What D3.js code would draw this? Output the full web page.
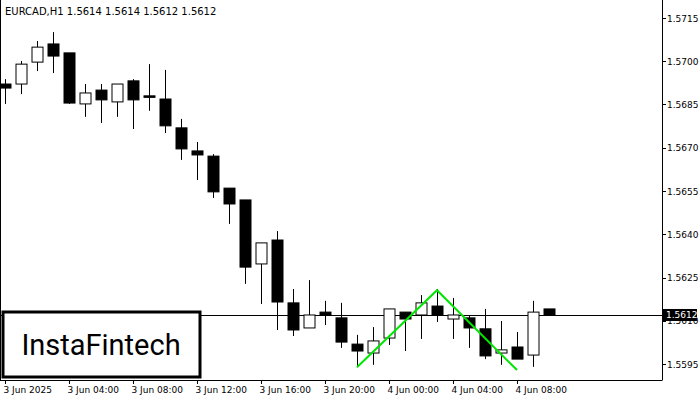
<!DOCTYPE html>
<html><head><meta charset="utf-8">
<script src="https://cdn.jsdelivr.net/npm/d3@7"></script>
<style>body{margin:0;background:#fff}text{font-family:"DejaVu Sans",sans-serif}</style>
</head><body><div id="chart"></div>
<script>
var svgWidth = 700, svgHeight = 400;

// OHLC per hour, 3 Jun 00:00 .. 4 Jun 10:00
var opens  = [1.56921,1.56921,1.56997,1.57060,1.57029,1.56852,1.56900,1.56859,1.56932,1.56880,1.56869,1.56769,1.56689,1.56671,1.56560,1.56519,1.56297,1.56380,1.56162,1.56075,1.56130,1.56110,1.56019,1.55988,1.56040,1.56130,1.56120,1.56151,1.56106,1.56110,1.56072,1.55988,1.56009,1.55981,1.56141];
var highs  = [1.56938,1.57001,1.57070,1.57101,1.57029,1.56921,1.56921,1.56921,1.56938,1.56990,1.56970,1.56800,1.56720,1.56678,1.56560,1.56519,1.56370,1.56411,1.56210,1.56241,1.56169,1.56162,1.56051,1.56078,1.56141,1.56130,1.56189,1.56210,1.56179,1.56120,1.56141,1.56099,1.56061,1.56169,1.56141];
var lows   = [1.56852,1.56886,1.56966,1.56959,1.56852,1.56807,1.56786,1.56807,1.56765,1.56828,1.56751,1.56658,1.56588,1.56526,1.56436,1.56228,1.56158,1.56068,1.56047,1.56075,1.56085,1.56006,1.55940,1.55947,1.56016,1.55995,1.56037,1.56096,1.56037,1.56006,1.55967,1.55947,1.55967,1.55940,1.56120];
var closes = [1.56907,1.56990,1.57049,1.57018,1.56855,1.56890,1.56866,1.56921,1.56866,1.56880,1.56776,1.56696,1.56675,1.56547,1.56505,1.56286,1.56370,1.56165,1.56068,1.56120,1.56120,1.56026,1.55995,1.56030,1.56141,1.56106,1.56162,1.56120,1.56120,1.56075,1.55978,1.55999,1.55967,1.56130,1.56120];

var yTicks = [1.5595,1.5610,1.5625,1.5640,1.5655,1.5670,1.5685,1.5700,1.5715];
var timeLabels = ["3 Jun 2025","3 Jun 04:00","3 Jun 08:00","3 Jun 12:00","3 Jun 16:00","3 Jun 20:00","4 Jun 00:00","4 Jun 04:00","4 Jun 08:00"];
var lastPrice = 1.5612;
// double top pattern: index, price
var patIdx = [22, 27, 32];
var patPrice = [1.55939, 1.56206, 1.55929];

var svg = d3.select("#chart").append("svg")
    .attr("width", svgWidth).attr("height", svgHeight);

var x = d3.scaleLinear().domain([0, 34]).range([5, 549]);
var y = d3.scaleLinear().domain([1.5595, 1.5715]).range([364, 18]);

// frame
svg.append("line").attr("x1", 662.5).attr("x2", 662.5).attr("y1", 0).attr("y2", 380).attr("stroke", "#000");
svg.append("line").attr("x1", 0).attr("x2", 662.5).attr("y1", 380.5).attr("y2", 380.5).attr("stroke", "#000");
svg.append("line").attr("x1", 0.5).attr("x2", 0.5).attr("y1", 0).attr("y2", 380).attr("stroke", "#000");

// y axis
var yAxis = svg.append("g");
yTicks.forEach(function (t) {
    yAxis.append("line").attr("x1", 662).attr("x2", 666).attr("y1", Math.round(y(t)) + 0.5).attr("y2", Math.round(y(t)) + 0.5).attr("stroke", "#000");
    yAxis.append("text").attr("x", 667).attr("y", y(t) + 3.5).attr("font-size", 9).text(t.toFixed(4));
});

// x axis
timeLabels.forEach(function (l, i) {
    var xx = Math.round(x(i * 4)) + 0.5;
    svg.append("line").attr("x1", xx).attr("x2", xx).attr("y1", 380).attr("y2", 384).attr("stroke", "#000");
    svg.append("text").attr("x", xx - 2).attr("y", 393).attr("font-size", 9).text(l);
});

// last price line
svg.append("line").attr("x1", 0).attr("x2", 662).attr("y1", Math.round(y(lastPrice)) + 0.5).attr("y2", Math.round(y(lastPrice)) + 0.5).attr("stroke", "#000");

// candles
var data = opens.map(function (o, i) { return {i: i, o: o, h: highs[i], l: lows[i], c: closes[i]}; });
var candles = svg.selectAll(".candle").data(data).enter().append("g");
candles.append("line")
    .attr("x1", d => Math.round(x(d.i)) + 0.5).attr("x2", d => Math.round(x(d.i)) + 0.5)
    .attr("y1", d => y(d.h)).attr("y2", d => y(d.l))
    .attr("stroke", "#000").attr("stroke-width", 1);
candles.append("rect")
    .attr("x", d => Math.round(x(d.i)) - 5)
    .attr("y", d => y(Math.max(d.o, d.c)))
    .attr("width", 11)
    .attr("height", d => Math.max(1.5, Math.abs(y(d.o) - y(d.c))))
    .attr("fill", d => d.c >= d.o && d.c !== d.o ? "#fff" : "#000")
    .attr("stroke", "#000").attr("stroke-width", 1);

// pattern
svg.append("path")
    .datum(patIdx.map((p, k) => [x(p), y(patPrice[k])]))
    .attr("d", d3.line())
    .attr("fill", "none").attr("stroke", "#00e600").attr("stroke-width", 2);

// price label
svg.append("rect").attr("x", 663).attr("y", y(lastPrice) - 6).attr("width", 34).attr("height", 12).attr("fill", "#000");
svg.append("text").attr("x", 666).attr("y", y(lastPrice) + 3.5).attr("font-size", 9).attr("fill", "#fff").text(lastPrice.toFixed(4));

// title
svg.append("text").attr("x", 5).attr("y", 15).attr("font-size", 10).text("EURCAD,H1  1.5614 1.5614 1.5612 1.5612");

// logo
svg.append("rect").attr("x", 3).attr("y", 312).attr("width", 197).attr("height", 65).attr("fill", "#fff").attr("stroke", "#000").attr("stroke-width", 3);
svg.append("text").attr("x", 101).attr("y", 355).attr("text-anchor", "middle").attr("font-size", 29)
    .style("font-family", "Roboto, sans-serif").text("InstaFintech");
</script></body></html>
